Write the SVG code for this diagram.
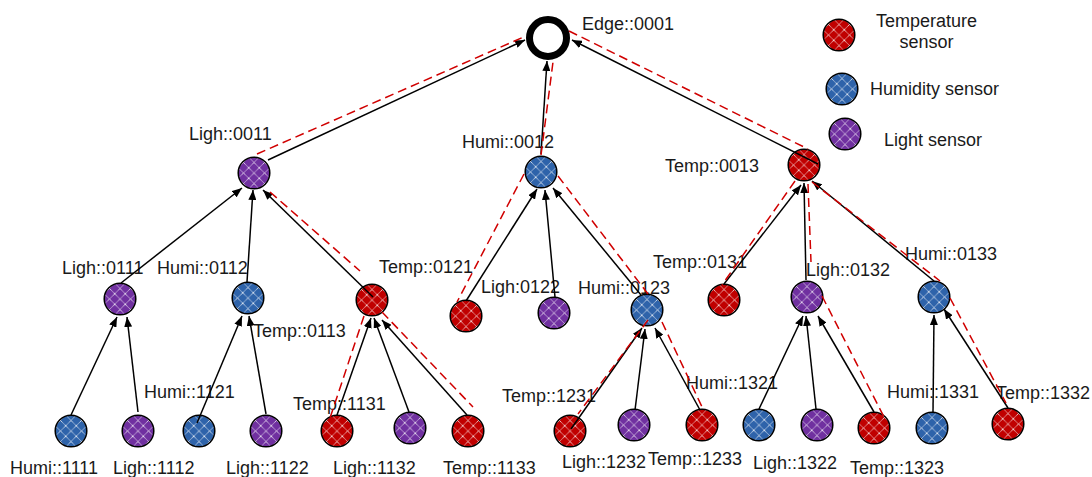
<svg xmlns="http://www.w3.org/2000/svg" width="1092" height="477" viewBox="0 0 1092 477">
<style>
text{font-family:"Liberation Sans",Arial,sans-serif;font-size:18px;fill:#1a1a1a}
.nd{stroke:#000;stroke-width:1.5}
.r{fill:url(#pr)}
.b{fill:url(#pb)}
.p{fill:url(#pp)}
.ln{stroke:#000;stroke-width:1.5;fill:none;marker-end:url(#ah)}
.dl{stroke:#D00000;stroke-width:1.5;stroke-dasharray:9 5;fill:none}
</style>
<defs>
<marker id="ah" viewBox="0 0 10 8" refX="10" refY="4" markerWidth="10" markerHeight="8" markerUnits="userSpaceOnUse" orient="auto">
<path d="M0,0L10,4L0,8z" fill="#000"/>
</marker>
<pattern id="pr" patternUnits="objectBoundingBox" width="0.3333" height="0.3333" patternContentUnits="objectBoundingBox">
<rect x="-0.01" y="-0.01" width="0.36" height="0.36" fill="#C00000"/>
<path d="M0,0L0.3333,0.3333M0.3333,0L0,0.3333" stroke="#fff" stroke-width="0.03" stroke-dasharray="0.035 0.018"/>
</pattern>
<pattern id="pb" patternUnits="objectBoundingBox" width="0.3333" height="0.3333" patternContentUnits="objectBoundingBox">
<rect x="-0.01" y="-0.01" width="0.36" height="0.36" fill="#2E63AA"/>
<path d="M0,0L0.3333,0.3333M0.3333,0L0,0.3333" stroke="#fff" stroke-width="0.03" stroke-dasharray="0.035 0.018"/>
</pattern>
<pattern id="pp" patternUnits="objectBoundingBox" width="0.3333" height="0.3333" patternContentUnits="objectBoundingBox">
<rect x="-0.01" y="-0.01" width="0.36" height="0.36" fill="#7030A0"/>
<path d="M0,0L0.3333,0.3333M0.3333,0L0,0.3333" stroke="#fff" stroke-width="0.03" stroke-dasharray="0.035 0.018"/>
</pattern>
</defs>
<rect width="1092" height="477" fill="#fff"/>

<g id="edge-0001"><circle cx="548" cy="38" r="18.5" fill="#fff" stroke="#000" stroke-width="7"/><text x="582" y="29.5">Edge::0001</text></g>
<g id="ligh-0011"><circle class="nd p" cx="254" cy="173" r="15.8"/><text x="189" y="140">Ligh::0011</text></g>
<g id="humi-0012"><circle class="nd b" cx="541" cy="172" r="15.8"/><text x="462" y="148">Humi::0012</text></g>
<g id="temp-0013"><circle class="nd r" cx="804" cy="165" r="15.8"/><text x="665" y="171.5">Temp::0013</text></g>

<g id="ligh-0111"><circle class="nd p" cx="120" cy="299" r="15.8"/><text x="62" y="273.5">Ligh::0111</text></g>
<g id="humi-0112"><circle class="nd b" cx="248" cy="298" r="15.8"/><text x="157" y="273.5">Humi::0112</text></g>
<g id="temp-0113"><circle class="nd r" cx="372" cy="300" r="15.8"/><text x="253" y="337">Temp::0113</text></g>
<g id="temp-0121"><circle class="nd r" cx="466" cy="316" r="15.8"/><text x="379" y="273">Temp::0121</text></g>
<g id="ligh-0122"><circle class="nd p" cx="554" cy="313" r="15.8"/><text x="481" y="293">Ligh:0122</text></g>
<g id="humi-0123"><circle class="nd b" cx="647" cy="310" r="15.8"/><text x="578" y="294">Humi::0123</text></g>
<g id="temp-0131"><circle class="nd r" cx="724" cy="300" r="15.8"/><text x="653" y="268">Temp::0131</text></g>
<g id="ligh-0132"><circle class="nd p" cx="807" cy="297" r="15.8"/><text x="806" y="275.5">Ligh::0132</text></g>
<g id="humi-0133"><circle class="nd b" cx="934" cy="297" r="15.8"/><text x="905" y="260">Humi::0133</text></g>

<g id="humi-1111"><circle class="nd b" cx="71" cy="431" r="15.8"/><text x="10" y="474">Humi::1111</text></g>
<g id="ligh-1112"><circle class="nd p" cx="138" cy="431" r="15.8"/><text x="113" y="474">Ligh::1112</text></g>
<g id="humi-1121"><circle class="nd b" cx="199" cy="431" r="15.8"/><text x="144" y="398">Humi::1121</text></g>
<g id="ligh-1122"><circle class="nd p" cx="266" cy="431" r="15.8"/><text x="226" y="474">Ligh::1122</text></g>
<g id="temp-1131"><circle class="nd r" cx="337" cy="431" r="15.8"/><text x="293" y="410">Temp::1131</text></g>
<g id="ligh-1132"><circle class="nd p" cx="410" cy="428" r="15.8"/><text x="333" y="473.5">Ligh::1132</text></g>
<g id="temp-1133"><circle class="nd r" cx="468" cy="431" r="15.8"/><text x="443" y="473.5">Temp::1133</text></g>
<g id="temp-1231"><circle class="nd r" cx="570" cy="431" r="15.8"/><text x="502" y="402">Temp::1231</text></g>
<g id="ligh-1232"><circle class="nd p" cx="634" cy="425" r="15.8"/><text x="562" y="468">Ligh::1232</text></g>
<g id="temp-1233"><circle class="nd r" cx="702" cy="425" r="15.8"/><text x="648" y="465">Temp::1233</text></g>
<g id="humi-1321"><circle class="nd b" cx="759" cy="425" r="15.8"/><text x="686" y="389">Humi::1321</text></g>
<g id="ligh-1322"><circle class="nd p" cx="817" cy="425" r="15.8"/><text x="753" y="469">Ligh::1322</text></g>
<g id="temp-1323"><circle class="nd r" cx="874" cy="428" r="15.8"/><text x="850" y="473.5">Temp::1323</text></g>
<g id="humi-1331"><circle class="nd b" cx="932" cy="428" r="15.8"/><text x="887" y="397.5">Humi::1331</text></g>
<g id="temp-1332"><circle class="nd r" cx="1008" cy="424" r="15.8"/><text x="996" y="398.5">Temp::1332</text></g>

<g id="connectors">
<path class="ln" d="M268,160L525,40"/>
<path class="ln" d="M541,154L547,61"/>
<path class="ln" d="M818,164L572,40"/>
<path class="ln" d="M121,283L242,188"/>
<path class="ln" d="M247,282L253,190"/>
<path class="ln" d="M373,297L263,190"/>
<path class="ln" d="M466,301L537,189"/>
<path class="ln" d="M555,297L545,190"/>
<path class="ln" d="M641,295L553,188"/>
<path class="ln" d="M724,284L801,185"/>
<path class="ln" d="M806,280L804,183"/>
<path class="ln" d="M934,281L812,181"/>
<path class="ln" d="M71,415L117,317"/>
<path class="ln" d="M138,412L127,317"/>
<path class="ln" d="M197,423L242,316"/>
<path class="ln" d="M266,414L249,316"/>
<path class="ln" d="M337,415L371,318"/>
<path class="ln" d="M409,412L374,318"/>
<path class="ln" d="M467,415L382,320"/>
<path class="ln" d="M571,429L642,328"/>
<path class="ln" d="M635,410L645,329"/>
<path class="ln" d="M700,410L655,328"/>
<path class="ln" d="M759,409L803,316"/>
<path class="ln" d="M816,409L806,316"/>
<path class="ln" d="M874,412L818,316"/>
<path class="ln" d="M933,412L934,315"/>
<path class="ln" d="M1008,408L944,309"/>
<path class="dl" d="M257,154L526,36"/>
<path class="dl" d="M541,155L553,62"/>
<path class="dl" d="M569,31L808,149"/>
<path class="dl" d="M270,192L360,271"/>
<path class="dl" d="M524,174L457,302"/>
<path class="dl" d="M558,176L648,294"/>
<path class="dl" d="M795,181L722,285"/>
<path class="dl" d="M808,184L811,262"/>
<path class="dl" d="M812,182L940,281"/>
<path class="dl" d="M950,298L1006,403"/>
<path class="dl" d="M364,316L330,418"/>
<path class="dl" d="M382,312L473,407"/>
<path class="dl" d="M648,320L578,414"/>
<path class="dl" d="M662,322L703,409"/>
<path class="dl" d="M822,296L884,417"/>
</g>

<g id="legend">
<g id="legend-temp"><circle class="nd r" cx="839" cy="35" r="15.8"/><text x="926.5" y="27" text-anchor="middle">Temperature</text><text x="926.5" y="48" text-anchor="middle">sensor</text></g>
<g id="legend-humi"><circle class="nd b" cx="842" cy="89" r="15.8"/><text x="870" y="95">Humidity sensor</text></g>
<g id="legend-ligh"><circle class="nd p" cx="845" cy="134" r="15.8"/><text x="884" y="146">Light sensor</text></g>
</g>
</svg>
